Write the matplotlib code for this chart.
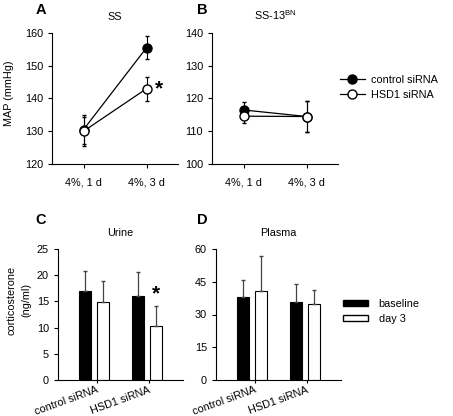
import matplotlib
matplotlib.use("Agg")
import matplotlib.pyplot as plt
from matplotlib.lines import Line2D
from matplotlib.patches import Patch
import numpy as np

plt.rcParams['font.family'] = ['Liberation Sans', 'DejaVu Sans']
FS = 7.8
plt.rcParams['font.size'] = FS

# Data
time_labels = ["4%, 1 d", "4%, 3 d"]
ss_control = [130.5, 155.5]
ss_control_err = [4.5, 3.5]
ss_hsd1 = [130.0, 143.0]
ss_hsd1_err = [4.5, 3.7]
bn_control = [116.5, 114.5]
bn_control_err = [2.5, 4.7]
bn_hsd1 = [114.6, 114.5]
bn_hsd1_err = [2.0, 4.7]

groups = ["control siRNA", "HSD1 siRNA"]
urine_baseline = [16.9, 16.1]
urine_baseline_err = [3.9, 4.6]
urine_day3 = [14.8, 10.4]
urine_day3_err = [4.1, 3.7]
plasma_baseline = [38.0, 35.7]
plasma_baseline_err = [7.6, 8.1]
plasma_day3 = [40.6, 34.7]
plasma_day3_err = [16.2, 6.5]

W, H = 453, 416
fig = plt.figure(figsize=(W/100, H/100), dpi=100)

def ax_at(l, r, t, b):
    return fig.add_axes([l/W, 1-b/H, (r-l)/W, (b-t)/H])

def style(ax):
    ax.spines['top'].set_visible(False)
    ax.spines['right'].set_visible(False)
    ax.tick_params(direction='out', length=3, width=0.8, labelsize=FS)
    for s in ['left', 'bottom']:
        ax.spines[s].set_linewidth(0.8)

axA = ax_at(52, 178, 33, 164)
axB = ax_at(212, 338, 33, 164)
axC = ax_at(58, 183, 249, 380)
axD = ax_at(216, 341, 249, 380)

x = np.arange(len(time_labels))
def line_panel(ax, c, ce, h, he, ylim, yticks):
    ax.errorbar(x, c, yerr=ce, color='black', marker='o', markersize=6.5,
                markerfacecolor='black', markeredgecolor='black', lw=0.9,
                capsize=1.5, elinewidth=0.8, label='control siRNA', zorder=3)
    ax.errorbar(x, h, yerr=he, color='black', marker='o', markersize=6.5,
                markerfacecolor='white', markeredgecolor='black', lw=0.9,
                capsize=1.5, elinewidth=0.8, label='HSD1 siRNA', zorder=4)
    ax.set_xlim(-0.5, 1.5)
    ax.set_ylim(*ylim)
    ax.set_yticks(yticks)
    ax.set_xticks(x)
    ax.set_xticklabels(time_labels)
    style(ax)
    ax.tick_params(axis='x', pad=7)

line_panel(axA, ss_control, ss_control_err, ss_hsd1, ss_hsd1_err, (120, 160), [120, 130, 140, 150, 160])
line_panel(axB, bn_control, bn_control_err, bn_hsd1, bn_hsd1_err, (100, 140), [100, 110, 120, 130, 140])
axA.set_ylabel("MAP (mmHg)", fontsize=FS)
axA.yaxis.set_label_coords((14-52)/126, 0.54)
axA.set_title("SS", fontsize=FS, pad=9.5)
axB.set_title("SS-13$^{\\mathregular{BN}}$", fontsize=FS, pad=9.5)
axA.text(1.2, ss_hsd1[1], "*", fontsize=15, fontweight='bold', ha='center', va='center')

fig.legend(handles=[
    Line2D([0], [0], color='black', marker='o', markersize=6.5, markerfacecolor='black', lw=0.9),
    Line2D([0], [0], color='black', marker='o', markersize=6.5, markerfacecolor='white', lw=0.9)],
    labels=['control siRNA', 'HSD1 siRNA'], loc='center left',
    bbox_to_anchor=(340/W, 1-87.5/H), borderpad=0, borderaxespad=0,
    frameon=False, fontsize=FS, handlelength=2.3, handletextpad=0.6, labelspacing=0.45)

gx = np.arange(len(groups))
off = 0.173
bw = 0.23
def bar_panel(ax, b, be, d, de, ylim, yticks):
    ax.bar(gx - off, b, bw, color='black', edgecolor='black', lw=0.8, label='baseline')
    ax.bar(gx + off, d, bw, color='white', edgecolor='black', lw=0.8, label='day 3')
    ax.errorbar(gx - off, b, yerr=[np.zeros(2), be], fmt='none', ecolor='#444444',
                elinewidth=0.9, capsize=1.5)
    ax.errorbar(gx + off, d, yerr=[np.zeros(2), de], fmt='none', ecolor='#444444',
                elinewidth=0.9, capsize=1.5)
    ax.set_xlim(-0.7, 1.7)
    ax.set_ylim(*ylim)
    ax.set_yticks(yticks)
    ax.set_xticks(gx + 0.04)
    ax.set_xticklabels(groups, rotation=20, ha='right', va='top', rotation_mode='anchor')
    style(ax)
    ax.tick_params(axis='x', length=2, pad=1.5)

bar_panel(axC, urine_baseline, urine_baseline_err, urine_day3, urine_day3_err, (0, 25), [0, 5, 10, 15, 20, 25])
bar_panel(axD, plasma_baseline, plasma_baseline_err, plasma_day3, plasma_day3_err, (0, 60), [0, 15, 30, 45, 60])
axC.set_ylabel("corticosterone\n(ng/ml)", fontsize=FS, linespacing=1.5)
axC.yaxis.set_label_coords((31-58)/125, (380-300)/131)
axC.set_title("Urine", fontsize=FS, pad=9.5)
axD.set_title("Plasma", fontsize=FS, pad=9.5)
axC.text(1 + off, urine_day3[1] + urine_day3_err[1] + 0.6, "*", fontsize=15,
         fontweight='bold', ha='center', va='bottom')

fig.legend(handles=[Patch(facecolor='black', edgecolor='black'),
                    Patch(facecolor='white', edgecolor='black')],
           labels=['baseline', 'day 3'], loc='center left',
           bbox_to_anchor=(343/W, 1-311.5/H), borderpad=0, borderaxespad=0,
           frameon=False, fontsize=FS, handlelength=2.3, handleheight=0.45,
           handletextpad=1.0, labelspacing=0.45)

for lab, xp, yp in [("A", 40.5, 10.5), ("B", 202, 10.5), ("C", 41, 220.5), ("D", 202, 220.5)]:
    fig.text(xp/W, 1-yp/H, lab, fontsize=10.5, fontweight='bold', ha='center', va='center')

fig.savefig("out.png", dpi=100)
